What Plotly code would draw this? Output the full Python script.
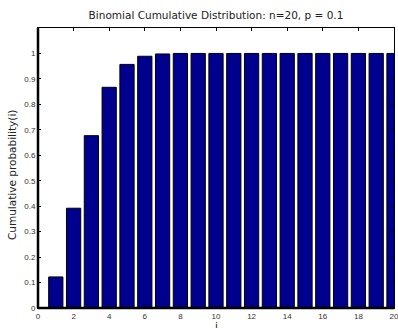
import plotly.graph_objects as go

i_values = list(range(1, 21))
cum_prob = [0.122, 0.392, 0.677, 0.867, 0.957, 0.989, 0.998, 1.0, 1.0, 1.0,
            1.0, 1.0, 1.0, 1.0, 1.0, 1.0, 1.0, 1.0, 1.0, 1.0]
x_ticks = list(range(0, 21, 2))
y_ticks = [round(0.1 * k, 1) for k in range(11)]
y_tick_labels = ["0", "0.1", "0.2", "0.3", "0.4", "0.5", "0.6", "0.7", "0.8", "0.9", "1"]

fig = go.Figure()
fig.add_trace(go.Bar(
    x=i_values, y=cum_prob, width=0.8,
    marker=dict(color="#00008f", line=dict(color="black", width=1)),
))

tick_font = "Liberation Sans, Arial, sans-serif"
text_font = "DejaVu Sans, sans-serif"
fig.update_layout(
    width=398, height=328,
    margin=dict(l=38, r=4, t=28, b=20, autoexpand=False),
    paper_bgcolor="white", plot_bgcolor="white",
    showlegend=False,
    font=dict(family=tick_font, size=8, color="#333333"),
    title=dict(text="Binomial Cumulative Distribution: n=20, p = 0.1",
               x=216 / 398, xanchor="center",
               y=1 - 15 / 328, yanchor="middle",
               font=dict(family=text_font, size=10.5, color="#222222")),
    xaxis=dict(range=[0, 20], tickvals=x_ticks, ticks="inside", ticklen=3,
               tickcolor="black", showline=True, linecolor="black", linewidth=1,
               mirror="ticks", showgrid=False, zeroline=False, automargin=False,
               ticklabeloverflow="allow"),
    yaxis=dict(range=[0, 1.1], tickvals=y_ticks, ticktext=y_tick_labels,
               ticks="inside", ticklen=3, tickcolor="black",
               showline=True, linecolor="black", linewidth=1, mirror="ticks",
               showgrid=False, zeroline=False, automargin=False),
    annotations=[
        dict(text="i", xref="paper", yref="paper", x=0.5, y=0, yshift=-18,
             xanchor="center", yanchor="middle", showarrow=False,
             font=dict(family=text_font, size=10.5, color="#222222")),
        dict(text="Cumulative probability(i)", xref="paper", yref="paper",
             x=(12 - 38) / 356, y=(308 - 175) / 280, textangle=-90,
             xanchor="center", yanchor="middle", showarrow=False,
             font=dict(family=text_font, size=10.5, color="#222222")),
    ],
    shapes=[
        dict(type="line", xref="paper", yref="paper", x0=0, x1=0, y0=0, y1=1,
             line=dict(color="black", width=2.5)),
        dict(type="line", xref="paper", yref="paper", x0=0, x1=1, y0=0, y1=0,
             line=dict(color="black", width=2.5)),
    ],
)

fig.write_html("out.html", config={"displayModeBar": False},
               post_script="document.body.style.margin='0px';")
